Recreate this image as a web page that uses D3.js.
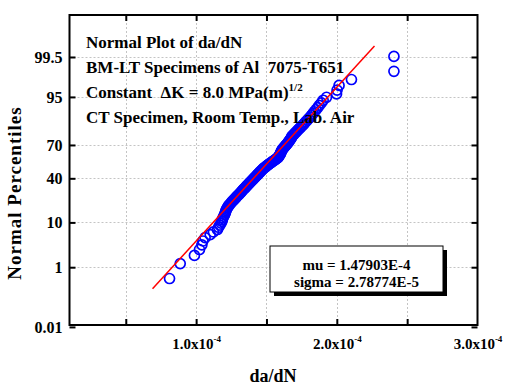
<!DOCTYPE html>
<html>
<head>
<meta charset="utf-8">
<script src="https://cdn.jsdelivr.net/npm/d3@7"></script>
<style>
  html, body { margin: 0; padding: 0; background: #fff; }
  svg { display: block; font-family: "Liberation Serif", "Times New Roman", serif; font-weight: bold; }
  svg text { font-family: "Liberation Serif", "Times New Roman", serif; font-weight: bold; white-space: pre; }
</style>
</head>
<body>
<svg id="chart" width="505" height="390"></svg>
<script>
// ---------------- data ----------------
// da/dN values (units of 1e-4 mm/cycle), sorted ascending
const daDN = [
  0.811, 0.887, 0.988, 1.024, 1.041, 1.048, 1.064, 1.100, 1.123, 1.151,
  1.160, 1.169, 1.177, 1.184, 1.186, 1.191, 1.197, 1.202, 1.207, 1.209,
  1.212, 1.217, 1.222, 1.228, 1.233, 1.241, 1.248, 1.255, 1.262, 1.270,
  1.277, 1.284, 1.290, 1.297, 1.305, 1.311, 1.318, 1.324, 1.330, 1.336,
  1.343, 1.349, 1.355, 1.361, 1.367, 1.373, 1.379, 1.385, 1.391, 1.397,
  1.403, 1.409, 1.414, 1.420, 1.426, 1.432, 1.437, 1.443, 1.448, 1.454,
  1.460, 1.465, 1.471, 1.477, 1.483, 1.492, 1.499, 1.506, 1.514, 1.521,
  1.530, 1.538, 1.546, 1.555, 1.563, 1.572, 1.579, 1.585, 1.589, 1.593,
  1.596, 1.599, 1.602, 1.604, 1.607, 1.610, 1.615, 1.620, 1.625, 1.631,
  1.636, 1.642, 1.648, 1.653, 1.658, 1.663, 1.668, 1.673, 1.678, 1.680,
  1.687, 1.695, 1.702, 1.710, 1.718, 1.726, 1.735, 1.744, 1.753, 1.762,
  1.771, 1.780, 1.790, 1.800, 1.810, 1.820, 1.830, 1.840, 1.852, 1.864,
  1.875, 1.890, 1.903, 1.927, 1.998, 2.002, 2.016, 2.104, 2.406, 2.406
];
const mu = 1.47903e-4;
const sigma = 2.78774e-5;
const fitRangePct = [0.233, 99.767];           // extent of the fitted line (percentiles)

const yTickPct    = [0.01, 1, 10, 40, 70, 95, 99.5];
const yTickLabels = ["0.01", "1", "10", "40", "70", "95", "99.5"];
const xGridTicks  = [0.5e-4, 1.0e-4, 1.5e-4, 2.0e-4, 2.5e-4];
const xLabelTicks = [1.0e-4, 2.0e-4, 3.0e-4];
const xLabelMant  = ["1.0x10", "2.0x10", "3.0x10"];
const xLabelExp   = "-4";
const xDomain = [0.1e-4, 3.0e-4];
const zDomain = [-3.674, 3.555];               // normal-score extent of the axis

const titleLines = [
  "Normal Plot of da/dN",
  "BM-LT Specimens of Al  7075-T651",
  "Constant  \u0394K = 8.0 MPa(m)",
  "CT Specimen, Room Temp., Lab. Air"
];
const titleSup = "1/2";
const statLines = ["mu = 1.47903E-4", "sigma = 2.78774E-5"];

// --------------- helpers ----------------
function probit(p) {
  const a=[-3.969683028665376e+01,2.209460984245205e+02,-2.759285104469687e+02,1.383577518672690e+02,-3.066479806614716e+01,2.506628277459239e+00];
  const b=[-5.447609879822406e+01,1.615858368580409e+02,-1.556989798598866e+02,6.680131188771972e+01,-1.328068155288572e+01];
  const c=[-7.784894002430293e-03,-3.223964580411365e-01,-2.400758277161838e+00,-2.549732539343734e+00,4.374664141464968e+00,2.938163982698783e+00];
  const d=[7.784695709041462e-03,3.224671290700398e-01,2.445134137142996e+00,3.754408661907416e+00];
  const pl=0.02425, ph=1-pl; let q, r;
  if (p < pl) { q=Math.sqrt(-2*Math.log(p)); return (((((c[0]*q+c[1])*q+c[2])*q+c[3])*q+c[4])*q+c[5])/((((d[0]*q+d[1])*q+d[2])*q+d[3])*q+1); }
  if (p <= ph) { q=p-0.5; r=q*q; return (((((a[0]*r+a[1])*r+a[2])*r+a[3])*r+a[4])*r+a[5])*q/(((((b[0]*r+b[1])*r+b[2])*r+b[3])*r+b[4])*r+1); }
  q=Math.sqrt(-2*Math.log(1-p)); return -(((((c[0]*q+c[1])*q+c[2])*q+c[3])*q+c[4])*q+c[5])/((((d[0]*q+d[1])*q+d[2])*q+d[3])*q+1);
}

// --------------- layout ----------------
const L = 69.5, R = 477.5, T = 15, B = 325;
const svg = d3.select("#chart");

const x = d3.scaleLinear().domain(xDomain).range([L, R]);
const y = d3.scaleLinear().domain(zDomain).range([B, T]);   // y on normal-score scale

const n = daDN.length;
const points = daDN.map((v, i) => ({ x: v * 1e-4, z: probit((i + 1 - 0.375) / (n + 0.25)) }));

// gridlines
const grid = svg.append("g").attr("stroke", "#c4c4c4").attr("stroke-width", 1).attr("stroke-dasharray", "2,2");
grid.selectAll(".gx").data(xGridTicks).enter().append("line")
  .attr("x1", d => Math.round(x(d)) + 0.5).attr("x2", d => Math.round(x(d)) + 0.5)
  .attr("y1", T).attr("y2", B);
grid.selectAll(".gy").data(yTickPct.filter(p => p > 0.01)).enter().append("line")
  .attr("x1", L).attr("x2", R)
  .attr("y1", d => Math.round(y(probit(d / 100))) + 0.5).attr("y2", d => Math.round(y(probit(d / 100))) + 0.5);

// data circles
svg.append("g").selectAll("circle").data(points).enter().append("circle")
  .attr("cx", d => x(d.x)).attr("cy", d => y(d.z)).attr("r", 5)
  .attr("fill", "none").attr("stroke", "#0000ff").attr("stroke-width", 1.7);

// fitted line
const zFit = fitRangePct.map(p => probit(p / 100));
svg.append("line")
  .attr("x1", x(mu + zFit[0] * sigma)).attr("y1", y(zFit[0]))
  .attr("x2", x(mu + zFit[1] * sigma)).attr("y2", y(zFit[1]))
  .attr("stroke", "#ff0000").attr("stroke-width", 1.5);

// axes (inward ticks)
const zTicks = yTickPct.map(p => probit(p / 100));
const axL = svg.append("g").attr("transform", `translate(${L},0)`)
  .call(d3.axisLeft(y).tickValues(zTicks).tickSizeInner(-6).tickSizeOuter(0).tickPadding(7)
        .tickFormat((d, i) => yTickLabels[i]));
const axR = svg.append("g").attr("transform", `translate(${R},0)`)
  .call(d3.axisRight(y).tickValues(zTicks).tickSizeInner(-6).tickSizeOuter(0).tickFormat(""));
const axB = svg.append("g").attr("transform", `translate(0,${B})`)
  .call(d3.axisBottom(x).tickValues(xGridTicks).tickSizeInner(-6).tickSizeOuter(0).tickFormat(""));
const axT = svg.append("g").attr("transform", `translate(0,${T})`)
  .call(d3.axisTop(x).tickValues(xGridTicks).tickSizeInner(-6).tickSizeOuter(0).tickFormat(""));
[axL, axR, axB, axT].forEach(g => {
  g.attr("font-family", null).attr("font-size", null);
  g.select(".domain").remove();
  g.selectAll(".tick line").attr("stroke", "#000").attr("stroke-width", 2);
});
axL.selectAll(".tick text").attr("font-size", 16).attr("fill", "#000");

// x labels with superscript
const axLab = svg.append("g").attr("transform", `translate(0,${B})`)
  .call(d3.axisBottom(x).tickValues(xLabelTicks).tickSize(0).tickPadding(0).tickFormat(""));
axLab.attr("font-family", null).attr("font-size", null);
axLab.select(".domain").remove();
axLab.selectAll(".tick").each(function(d, i) {
  const t = d3.select(this).append("text").attr("y", 24).attr("text-anchor", "middle")
    .attr("font-size", 15).attr("fill", "#000");
  t.append("tspan").text(xLabelMant[i]);
  t.append("tspan").attr("font-size", 9).attr("dy", -7).text(xLabelExp);
});

// frame
svg.append("rect").attr("x", L).attr("y", T).attr("width", R - L).attr("height", B - T)
  .attr("fill", "none").attr("stroke", "#000").attr("stroke-width", 2);

// axis titles
svg.append("text").attr("x", 273).attr("y", 382).attr("text-anchor", "middle")
  .attr("font-size", 18).text("da/dN");
svg.append("text").attr("transform", "translate(21,193) rotate(-90)").attr("text-anchor", "middle")
  .attr("font-size", 19).attr("letter-spacing", 1).text("Normal Percentiles");

// annotation
const ann = svg.append("g").attr("font-size", 17).attr("fill", "#000");
ann.append("text").attr("x", 86).attr("y", 48).text(titleLines[0]);
ann.append("text").attr("x", 86).attr("y", 73).text(titleLines[1]);
const t3 = ann.append("text").attr("x", 86).attr("y", 98);
t3.append("tspan").text(titleLines[2]);
t3.append("tspan").attr("font-size", 11).attr("dy", -7).text(titleSup);
ann.append("text").attr("x", 86).attr("y", 123).text(titleLines[3]);

// stats box
const bx = 270, by = 246, bw = 173, bh = 46;
svg.append("rect").attr("x", bx + 4).attr("y", by + 4).attr("width", bw).attr("height", bh).attr("fill", "#000");
svg.append("rect").attr("x", bx).attr("y", by).attr("width", bw).attr("height", bh)
  .attr("fill", "#fff").attr("stroke", "#000").attr("stroke-width", 1);
svg.append("g").selectAll("text").data(statLines).enter().append("text")
  .attr("x", bx + bw / 2).attr("y", (d, i) => by + 24 + i * 17).attr("text-anchor", "middle")
  .attr("font-size", 15).text(d => d);
</script>
</body>
</html>
